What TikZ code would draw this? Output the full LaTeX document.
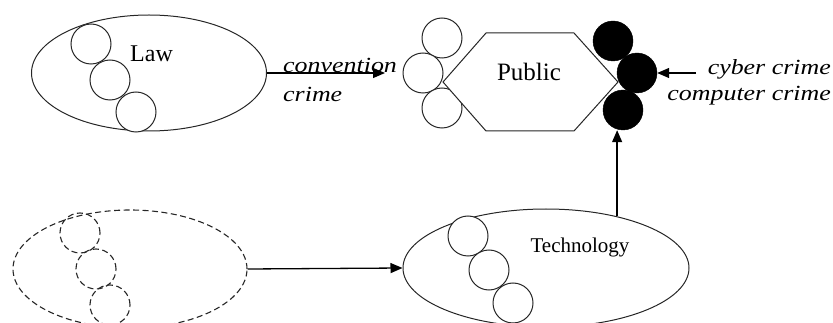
\documentclass[tikz,border=0pt]{standalone}
\usepackage{fontspec}
\setmainfont{Liberation Serif}
\newfontfamily\crimefont{Liberation Serif}[FakeStretch=1.2]
\usetikzlibrary{shapes.geometric,arrows.meta}

\tikzset{
  line/.style={draw=black!85, line width=1pt},
  ring/.style={circle, line, fill=white, minimum size=40pt, inner sep=0pt},
  darkring/.style={circle, draw=black, fill=black, minimum size=40pt, inner sep=0pt},
  dashring/.style={circle, draw=black!85, line width=1.1pt, dash pattern=on 6pt off 3.5pt, minimum size=40pt, inner sep=0pt},
  oval/.style={ellipse, line, inner sep=0pt},
  dashoval/.style={ellipse, draw=black!85, line width=1.1pt, dash pattern=on 6pt off 3.5pt, inner sep=0pt},
  flow/.style={draw=black, line width=1.3pt, -{Triangle[length=12pt,width=10pt]}},
  title/.style={inner sep=0pt},
  note/.style={inner sep=0pt, font=\crimefont\itshape\fontsize{21.6}{28}\selectfont},
}

\begin{document}
\begin{tikzpicture}[x=1pt, y=-1pt]
\useasboundingbox (0,0) rectangle (833,323);

% Law
\node[oval, minimum width=235pt, minimum height=116pt] (law) at (149,73) {};
\node[ring] (l1) at (91,44) {};
\node[ring] (l2) at (110,80) {};
\node[ring] (l3) at (136,112) {};
\node[title, font=\fontsize{24}{26}\selectfont, anchor=base west] (lawtxt) at (130,62) {Law};

% Public
\node[ring] (p1) at (442,38) {};
\node[ring] (p2) at (423,73) {};
\node[ring] (p3) at (442,108) {};
\draw[line, fill=white] (443,82) -- (486,33) -- (574,33) -- (618,82) -- (574,131) -- (486,131) -- cycle;
\node[title, font=\fontsize{25}{28}\selectfont, anchor=base] (pubtxt) at (529,81) {Public};
\node[darkring] (b1) at (613,41) {};
\node[darkring] (b2) at (637,73) {};
\node[darkring] (b3) at (623,110) {};

% Unshaped origin (dashed)
\node[dashoval, minimum width=234pt, minimum height=118pt] (seed) at (130,269) {};
\node[dashring] (d1) at (80,233) {};
\node[dashring] (d2) at (96,269) {};
\node[dashring] (d3) at (110,305) {};

% Technology
\node[oval, minimum width=286pt, minimum height=118pt] (tech) at (546,268) {};
\node[ring] (t1) at (468,236) {};
\node[ring] (t2) at (489,270) {};
\node[ring] (t3) at (513,303) {};
\node[title, font=\fontsize{21}{24}\selectfont, anchor=base] (techtxt) at (580,253) {Technology};

% Labels
\node[note, anchor=base west] (conv) at (283,73) {convention};
\node[note, anchor=base west] (crime) at (283,102) {crime};
\node[note, anchor=base east] (cyber) at (831,75) {cyber crime};
\node[note, anchor=base east] (comp) at (831,101) {computer crime};

% Connectors
\coordinate (lawend) at (385,73);
\coordinate (cyberstart) at (696,73);
\draw[flow] (law.east) -- (lawend);
\draw[flow] (cyberstart) -- (b2.east);
\draw[flow] (seed.east) -- (tech.west);
\draw[flow] (tech.36) -- (tech.36 |- b3.south);
\end{tikzpicture}
\end{document}
